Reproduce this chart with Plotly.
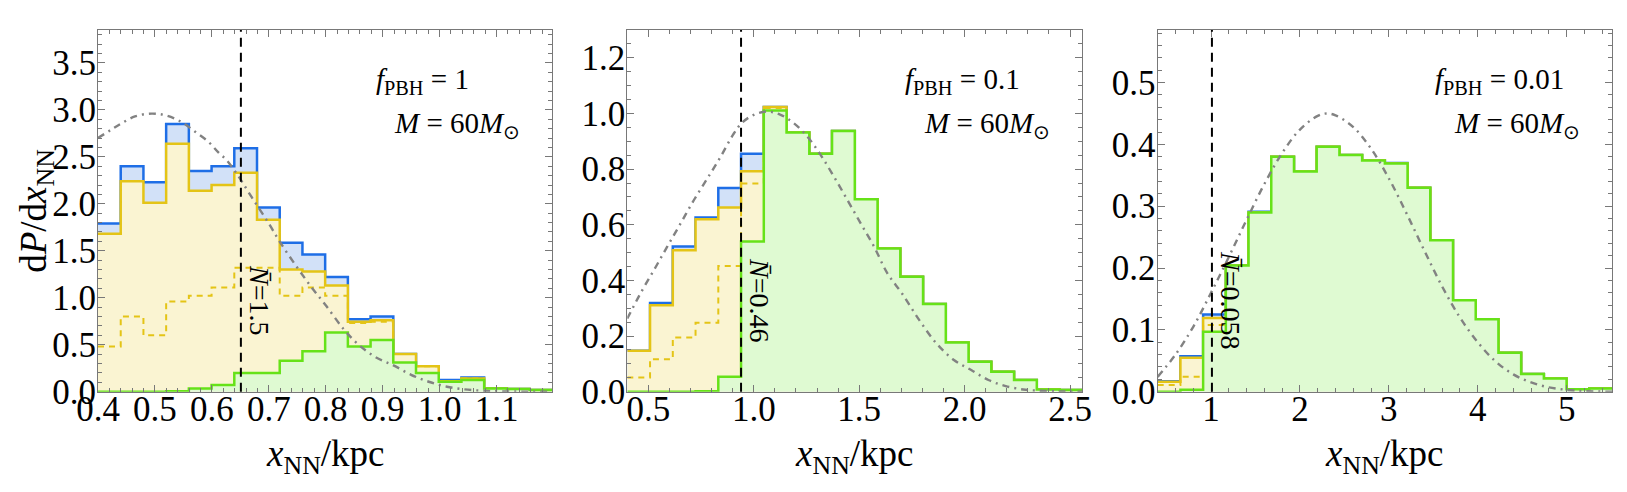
import numpy as np
import plotly.graph_objects as go

# colours (Mathematica-like palette)
BLUE_LINE = 'rgb(30,110,230)'
BLUE_FILL = 'rgb(210,225,248)'
YELLOW_LINE = 'rgb(228,196,22)'
YELLOW_FILL = 'rgb(250,244,210)'
GREEN_LINE = 'rgb(102,226,24)'
GREEN_FILL = 'rgb(223,250,210)'
GRAY = 'rgb(130,130,130)'
FONT = 'Liberation Serif, Times New Roman, serif'

# ---------------- panel 1: f_PBH = 1 ----------------
x_range_1 = [0.4, 1.198]
y_range_1 = [0, 3.85]
total_1 = [1.79, 2.40, 2.23, 2.85, 2.35, 2.40, 2.59, 1.96, 1.585, 1.46,
           1.22, 0.77, 0.80, 0.40, 0.27, 0.124, 0.15, 0.035, 0.03, 0.018]
yellow_1 = [1.68, 2.24, 2.01, 2.64, 2.14, 2.20, 2.33, 1.83, 1.30, 1.28,
            1.13, 0.745, 0.76, 0.40, 0.27, 0.11, 0.14, 0.035, 0.03, 0.018]
dashed_1 = [0.48, 0.80, 0.60, 0.96, 1.02, 1.11, 1.32, 1.32, 1.02, 1.11,
            1.02, 0.73, 0.745, 0.40, 0.27, 0.11, 0.14, 0.035, 0.03, 0.018]
green_1 = [0.0, 0.0, 0.0, 0.005, 0.035, 0.07, 0.20, 0.20, 0.33, 0.43,
           0.63, 0.48, 0.55, 0.31, 0.20, 0.106, 0.124, 0.035, 0.03, 0.018]
curve_x_1 = [0.4, 0.4235, 0.441, 0.465, 0.494, 0.520, 0.547, 0.570, 0.594, 0.611,
             0.626, 0.647, 0.670, 0.700, 0.721, 0.749, 0.774, 0.80, 0.831, 0.856,
             0.887, 0.919, 0.95, 0.981, 1.013, 1.044, 1.075, 1.107, 1.15, 1.198]
curve_y_1 = [2.70, 2.79, 2.855, 2.93, 2.96, 2.94, 2.87, 2.77, 2.66, 2.55,
             2.465, 2.29, 2.07, 1.79, 1.58, 1.33, 1.12, 0.92, 0.67, 0.51,
             0.37, 0.28, 0.18, 0.106, 0.053, 0.025, 0.01, 0.004, 0.001, 0.0]
nbar_x_1 = 0.651
nbar_1 = '1.5'
fpbh_1 = '1'

# ---------------- panel 2: f_PBH = 0.1 ----------------
x_range_2 = [0.4, 2.558]
y_range_2 = [0, 1.30]
total_2 = [0.147, 0.319, 0.522, 0.626, 0.732, 0.855, 1.023, 0.932, 0.855, 0.937,
           0.692, 0.515, 0.413, 0.315, 0.177, 0.108, 0.072, 0.042, 0.008, 0.006]
yellow_2 = [0.147, 0.311, 0.508, 0.620, 0.662, 0.792, 1.023, 0.932, 0.855, 0.937,
            0.692, 0.515, 0.413, 0.315, 0.177, 0.108, 0.072, 0.042, 0.008, 0.006]
dashed_2 = [0.051, 0.117, 0.195, 0.248, 0.452, 0.748, 1.02, 0.932, 0.855, 0.937,
            0.692, 0.515, 0.413, 0.315, 0.177, 0.108, 0.072, 0.042, 0.008, 0.006]
green_2 = [0.0, 0.0, 0.0, 0.002, 0.054, 0.54, 1.011, 0.932, 0.855, 0.937,
           0.692, 0.515, 0.413, 0.315, 0.177, 0.108, 0.072, 0.042, 0.008, 0.006]
curve_x_2 = [0.4, 0.463, 0.527, 0.59, 0.653, 0.716, 0.78, 0.843, 0.906, 0.946,
             1.0, 1.064, 1.127, 1.19, 1.254, 1.317, 1.38, 1.444, 1.507, 1.57,
             1.633, 1.703, 1.785, 1.867, 1.949, 2.031, 2.113, 2.195, 2.277, 2.34,
             2.45, 2.558]
curve_y_2 = [0.263, 0.354, 0.438, 0.522, 0.605, 0.689, 0.767, 0.845, 0.929, 0.968,
             0.995, 1.007, 0.995, 0.965, 0.917, 0.851, 0.773, 0.689, 0.605, 0.522,
             0.426, 0.353, 0.257, 0.173, 0.114, 0.078, 0.042, 0.020, 0.008, 0.004,
             0.001, 0.0]
nbar_x_2 = 0.9395
nbar_2 = '0.46'
fpbh_2 = '0.1'

# ---------------- panel 3: f_PBH = 0.01 ----------------
x_range_3 = [0.4, 5.51]
y_range_3 = [0, 0.585]
total_3 = [0.017, 0.0575, 0.125, 0.204, 0.291, 0.380, 0.356, 0.396, 0.383, 0.374,
           0.370, 0.330, 0.245, 0.148, 0.117, 0.063, 0.0285, 0.0215, 0.004, 0.005]
yellow_3 = [0.016, 0.055, 0.119, 0.204, 0.290, 0.380, 0.356, 0.396, 0.383, 0.374,
            0.369, 0.330, 0.245, 0.148, 0.117, 0.063, 0.0285, 0.0215, 0.004, 0.005]
dashed_3 = [0.011, 0.024, 0.108, 0.204, 0.290, 0.380, 0.356, 0.396, 0.383, 0.374,
            0.369, 0.330, 0.245, 0.148, 0.117, 0.063, 0.0285, 0.0215, 0.004, 0.005]
green_3 = [0.0, 0.003, 0.097, 0.204, 0.290, 0.380, 0.356, 0.396, 0.383, 0.374,
           0.369, 0.330, 0.245, 0.148, 0.117, 0.063, 0.0285, 0.0215, 0.004, 0.005]
curve_x_3 = [0.4, 0.6, 0.8, 1.0, 1.2, 1.4, 1.6, 1.8, 2.0, 2.2,
             2.3, 2.4, 2.6, 2.8, 3.0, 3.2, 3.4, 3.6, 3.8, 4.0,
             4.2, 4.4, 4.6, 4.8, 5.0, 5.2, 5.51]
curve_y_3 = [0.024, 0.060, 0.105, 0.160, 0.218, 0.278, 0.336, 0.386, 0.424, 0.446,
             0.450, 0.447, 0.428, 0.393, 0.345, 0.288, 0.228, 0.170, 0.120, 0.080,
             0.049, 0.028, 0.015, 0.007, 0.003, 0.001, 0.0]
nbar_x_3 = 1.01
nbar_3 = '0.058'
fpbh_3 = '0.01'

N_BINS = 20

# the page body has an 8px margin, so the figure is 8px smaller than the window
W, H, PAD = 1619, 484, 8


def px(x):
    # window pixel -> paper x
    return (x - PAD) / W


def py(y):
    # window pixel (from top) -> paper y
    return (H + PAD - y) / H


Y_DOM = [py(391.7), py(30)]


def steps(xr, vals):
    # bin edges across the plotted range, last value repeated to close the step
    edges = np.linspace(xr[0], xr[1], N_BINS + 1)
    return list(edges), list(vals) + [vals[-1]]


fig = go.Figure()

panels = [
    (x_range_1, y_range_1, total_1, yellow_1, dashed_1, green_1, curve_x_1, curve_y_1,
     nbar_x_1, nbar_1, fpbh_1, '', [px(98), px(552.3)]),
    (x_range_2, y_range_2, total_2, yellow_2, dashed_2, green_2, curve_x_2, curve_y_2,
     nbar_x_2, nbar_2, fpbh_2, '2', [px(627.3), px(1082.3)]),
    (x_range_3, y_range_3, total_3, yellow_3, dashed_3, green_3, curve_x_3, curve_y_3,
     nbar_x_3, nbar_3, fpbh_3, '3', [px(1157.7), px(1612)]),
]

axis_ticks = [
    dict(x=(0.1, 0.02, '.1f'), y=(0.5, 0.1, '.1f')),
    dict(x=(0.5, 0.1, '.1f'), y=(0.2, 0.05, '.1f')),
    dict(x=(1, 0.2, 'd'), y=(0.1, 0.02, '.1f')),
]

for i, (xr, yr, tot, yel, dsh, grn, cx, cy, nx, nb, fp, sfx, dom) in enumerate(panels):
    xa, ya = 'x' + sfx, 'y' + sfx
    ex, et = steps(xr, tot)
    _, ey = steps(xr, yel)
    _, ed = steps(xr, dsh)
    _, eg = steps(xr, grn)

    fig.add_trace(go.Scatter(x=ex, y=et, xaxis=xa, yaxis=ya, mode='lines', line_shape='hv',
                             fill='tozeroy', fillcolor=BLUE_FILL,
                             line=dict(color=BLUE_LINE, width=2.5), showlegend=False))
    fig.add_trace(go.Scatter(x=ex, y=ey, xaxis=xa, yaxis=ya, mode='lines', line_shape='hv',
                             fill='tozeroy', fillcolor=YELLOW_FILL,
                             line=dict(color=YELLOW_LINE, width=2.5), showlegend=False))
    fig.add_trace(go.Scatter(x=ex, y=ed, xaxis=xa, yaxis=ya, mode='lines', line_shape='hv',
                             line=dict(color=YELLOW_LINE, width=2, dash='6px,5px'),
                             showlegend=False))
    fig.add_trace(go.Scatter(x=ex, y=eg, xaxis=xa, yaxis=ya, mode='lines', line_shape='hv',
                             fill='tozeroy', fillcolor=GREEN_FILL,
                             line=dict(color=GREEN_LINE, width=2.5), showlegend=False))
    fig.add_trace(go.Scatter(x=cx, y=cy, xaxis=xa, yaxis=ya, mode='lines', line_shape='spline',
                             line=dict(color=GRAY, width=2.4, dash='7px,5px,2px,5px'),
                             showlegend=False))

    # mean number marker
    fig.add_shape(type='line', xref=xa, yref=ya + ' domain', x0=nx, x1=nx, y0=0, y1=1,
                  line=dict(color='black', width=2, dash='9px,6px'))
    fig.add_annotation(x=nx, xref=xa, y=py(300), yref='paper', xshift=19,
                       xanchor='center', yanchor='middle',
                       text='<i>N̄</i>=' + nb, textangle=90, showarrow=False,
                       font=dict(family=FONT, size=28, color='black'))

    fig.add_annotation(x=0.607, xref=xa + ' domain', y=0.858, yref=ya + ' domain',
                       xanchor='left', yanchor='middle', showarrow=False,
                       text='<i>f</i><sub>PBH</sub> = ' + fp,
                       font=dict(family=FONT, size=29, color='black'))
    fig.add_annotation(x=0.934, xref=xa + ' domain', y=0.738, yref=ya + ' domain',
                       xanchor='right', yanchor='middle', showarrow=False,
                       text='<i>M</i> = 60<i>M</i><sub>⊙</sub>',
                       font=dict(family=FONT, size=29, color='black'))

    tx, ty = axis_ticks[i]['x'], axis_ticks[i]['y']
    frame = dict(showline=True, linecolor='rgb(120,120,120)', linewidth=1.2, mirror='ticks',
                 ticks='inside', ticklen=7, tickcolor='rgb(120,120,120)', tickwidth=1,
                 showgrid=False, zeroline=False, automargin=False,
                 tickfont=dict(family=FONT, size=35, color='black'))
    fig.layout['xaxis' + sfx] = dict(frame, domain=dom, range=xr, anchor=ya, dtick=tx[0],
                                     tick0=0, tickformat=tx[2], ticklabelstandoff=-14,
                                     minor=dict(dtick=tx[1], tick0=0, ticks='inside',
                                                ticklen=4, tickcolor='rgb(120,120,120)'))
    fig.layout['yaxis' + sfx] = dict(frame, domain=Y_DOM, range=yr, anchor=xa,
                                     dtick=ty[0], tick0=0, tickformat=ty[2],
                                     ticklabelstandoff=-6,
                                     minor=dict(dtick=ty[1], tick0=0, ticks='inside',
                                                ticklen=4, tickcolor='rgb(120,120,120)'))

    # x axis title
    fig.add_annotation(x=(dom[0] + dom[1]) / 2, xref='paper', y=py(456), yref='paper',
                       xanchor='center', yanchor='middle',
                       showarrow=False, text='<i>x</i><sub>NN</sub>/kpc',
                       font=dict(family=FONT, size=37, color='black'))

# y axis title, first panel only
fig.add_annotation(x=px(37), xref='paper', y=(Y_DOM[0] + Y_DOM[1]) / 2, yref='paper',
                   xanchor='center', yanchor='middle',
                   showarrow=False, textangle=-90,
                   text='d<i>P</i>/d<i>x</i><sub>NN</sub>',
                   font=dict(family=FONT, size=37, color='black'))

fig.update_layout(width=W, height=H, margin=dict(l=0, r=0, t=0, b=0),
                  plot_bgcolor='white', paper_bgcolor='white')

fig.write_html('out.html')
